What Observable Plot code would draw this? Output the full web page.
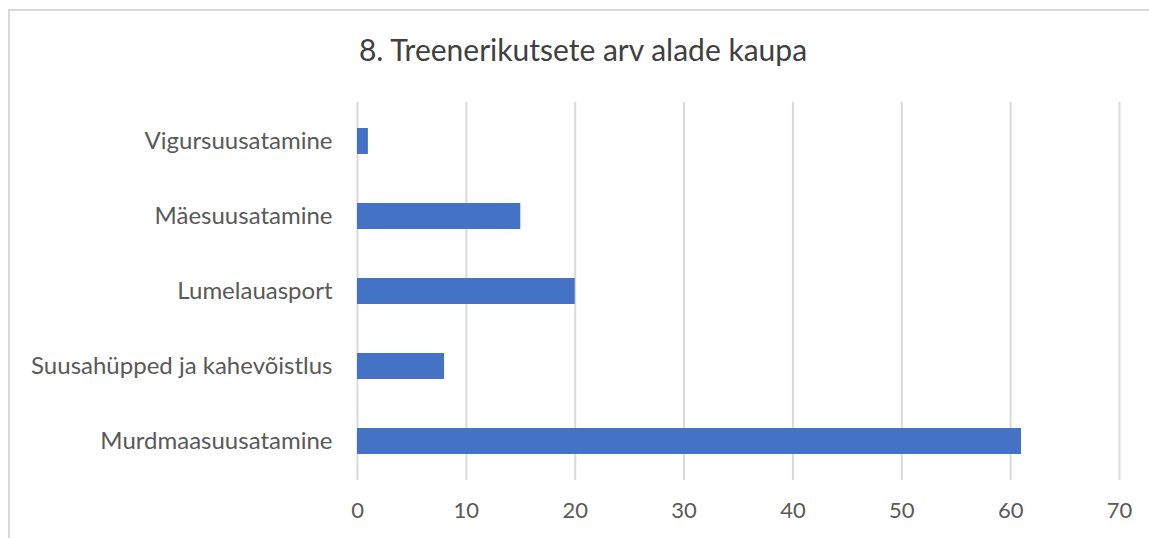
<!DOCTYPE html>
<html>
<head>
<meta charset="utf-8">
<script src="https://cdn.jsdelivr.net/npm/d3@7"></script>
<script src="https://cdn.jsdelivr.net/npm/@observablehq/plot@0.6"></script>
<style>
  html, body { margin: 0; padding: 0; background: #fff; }
  #wrap { position: relative; width: 1149px; height: 538px; overflow: hidden; font-family: Lato, "Noto Sans", sans-serif; }
  #frame { position: absolute; left: 8px; top: 9px; width: 1160px; height: 560px; border-top: 2px solid #d9d9d9; border-left: 2px solid #d9d9d9; box-sizing: border-box; }
  #title { position: absolute; left: 0; width: 1166px; top: 29px; text-align: center; font-size: 30px; color: #404040; line-height: 40px; }
  #chart { position: absolute; left: 0; top: 0; }
</style>
</head>
<body>
<div id="wrap">
  <div id="frame"></div>
  <div id="chart"></div>
  <div id="title">8. Treenerikutsete arv alade kaupa</div>
</div>
<script>
const categories = ["Vigursuusatamine", "Mäesuusatamine", "Lumelauasport", "Suusahüpped ja kahevõistlus", "Murdmaasuusatamine"];
const values = [1, 15, 20, 8, 61];
const xTicks = [0, 10, 20, 30, 40, 50, 60, 70];

const data = categories.map((c, i) => ({category: c, value: values[i]}));

const chart = Plot.plot({
  width: 1149,
  height: 538,
  marginLeft: 357,
  marginRight: 30,
  marginTop: 102,
  marginBottom: 58,
  style: {fontFamily: "Lato, 'Noto Sans', sans-serif", fontSize: "22px", color: "#595959", background: "transparent"},
  x: {domain: [0, 70], ticks: xTicks, label: null},
  y: {domain: categories, label: null, paddingInner: 0.655, paddingOuter: 0.3275},
  marks: [
    Plot.gridX(xTicks, {stroke: "#d9d9d9", strokeOpacity: 1, strokeWidth: 2}),
    Plot.barX(data, {x: "value", y: "category", fill: "#4472C4"}),
    Plot.axisX({ticks: xTicks, tickSize: 0, tickPadding: 22, fontSize: 22, fill: "#595959", label: null}),
    Plot.axisY({tickSize: 0, tickPadding: 25, fontSize: 24, fill: "#595959", label: null})
  ]
});
document.getElementById("chart").appendChild(chart);
</script>
</body>
</html>
